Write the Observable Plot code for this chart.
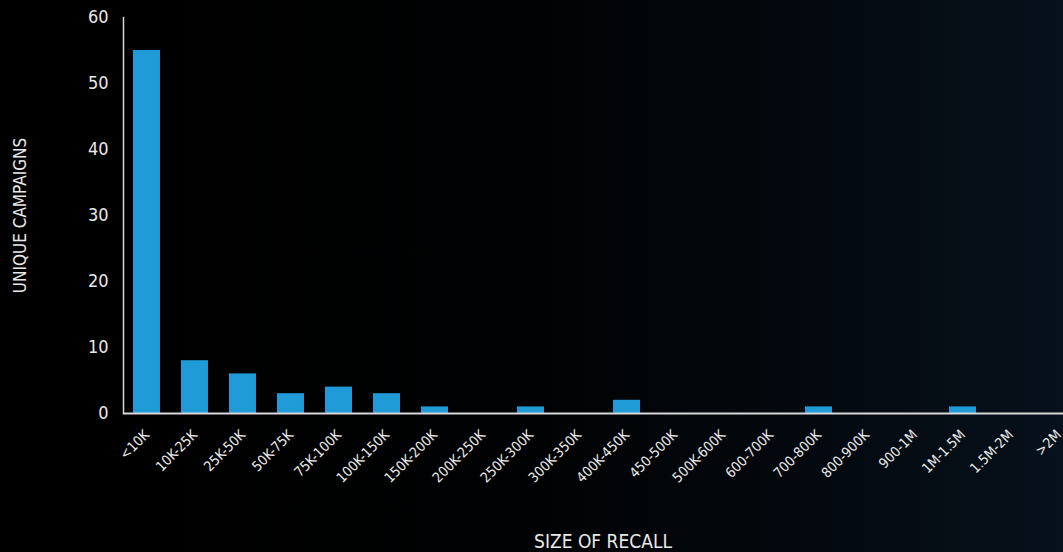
<!DOCTYPE html>
<html>
<head>
<meta charset="utf-8">
<script src="https://cdn.jsdelivr.net/npm/d3@7"></script>
<script src="https://cdn.jsdelivr.net/npm/@observablehq/plot@0.6"></script>
<style>
  html, body { margin: 0; padding: 0; width: 1063px; height: 552px; overflow: hidden; background: #000; }
  #chart { width: 1063px; height: 552px; overflow: hidden;
    background: linear-gradient(90deg, #000000 0%, #010203 50%, #040a11 80%, #07111b 100%); }
  #chart svg { display: block; max-width: none !important; height: 552px !important; }
</style>
</head>
<body>
<div id="chart"></div>
<script>
const categories = ["<10K", "10K-25K", "25K-50K", "50K-75K", "75K-100K", "100K-150K", "150K-200K",
  "200K-250K", "250K-300K", "300K-350K", "400K-450K", "450-500K", "500K-600K", "600-700K",
  "700-800K", "800-900K", "900-1M", "1M-1.5M", "1.5M-2M", ">2M"];
const counts = [55, 8, 6, 3, 4, 3, 1, 0, 1, 0, 2, 0, 0, 0, 1, 0, 0, 1, 0, 0];
const yTicks = [0, 10, 20, 30, 40, 50, 60];
const yTitle = "UNIQUE CAMPAIGNS";
const xTitle = "SIZE OF RECALL";

const data = categories.map((c, i) => ({category: c, count: counts[i]}));
const font = "'DejaVu Sans Condensed', 'Liberation Sans Narrow', 'DejaVu Sans', sans-serif";
const textColor = "#e9e9e9";

const chart = Plot.plot({
  width: 1082,
  height: 552,
  marginLeft: 123,
  marginRight: 0,
  marginTop: 17,
  marginBottom: 139,
  style: {background: "transparent", color: textColor, fontFamily: font, overflow: "visible"},
  x: {domain: categories, paddingInner: 0.4375, paddingOuter: 0.208, round: false},
  y: {domain: [0, 60]},
  marks: [
    Plot.barY(data, {x: "category", y: "count", fill: "#1f9bd8"}),
    Plot.frame({anchor: "left", stroke: "#d8d8d8", strokeWidth: 1.5}),
    Plot.ruleY([0], {stroke: "#d8d8d8", strokeWidth: 2}),
    Plot.axisY({ticks: yTicks, tickSize: 0, tickPadding: 15, fontSize: 18, label: null}),
    Plot.axisY({ticks: [], label: yTitle, labelAnchor: "center", labelOffset: 110, labelArrow: "none", fontSize: 17}),
    Plot.axisX({tickSize: 0, tickRotate: -45, tickPadding: 19, fontSize: 14, label: null}),
    Plot.axisX({ticks: [], label: xTitle, labelAnchor: "center", labelOffset: 134, labelArrow: "none", fontSize: 19})
  ]
});
document.getElementById("chart").appendChild(chart);
</script>
</body>
</html>
